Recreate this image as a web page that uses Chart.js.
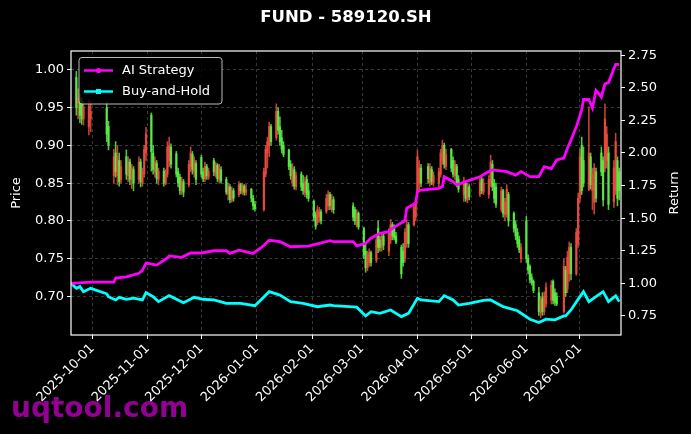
<!DOCTYPE html>
<html>
<head>
<meta charset="utf-8">
<script src="https://cdn.jsdelivr.net/npm/chart.js@4.4.1/dist/chart.umd.min.js"></script>
<style>
  html, body { margin: 0; background: #000; }
  canvas { display: block; }
</style>
</head>
<body>
<canvas id="chart" width="691" height="434"></canvas>
<script>
// trading days, month by month
const tradeMonths = ["2025-09", "2025-10", "2025-11", "2025-12", "2026-01", "2026-02",
  "2026-03", "2026-04", "2026-05", "2026-06", "2026-07"];
const tradeDaysByMonth = [
  [22, 23, 24, 25, 26, 29, 30],
  [9, 10, 13, 14, 15, 16, 17, 20, 21, 22, 23, 24, 27, 28, 29, 30, 31],
  [3, 4, 5, 6, 7, 10, 11, 12, 13, 14, 17, 18, 19, 20, 21, 24, 25, 26, 27, 28],
  [1, 2, 3, 4, 5, 8, 9, 10, 11, 12, 15, 16, 17, 18, 19, 22, 23, 24, 25, 26, 29, 30, 31],
  [5, 6, 7, 8, 9, 12, 13, 14, 15, 16, 19, 20, 21, 22, 23, 26, 27, 28, 29, 30],
  [2, 3, 4, 5, 6, 9, 10, 11, 12, 13, 24, 25, 26, 27],
  [2, 3, 4, 5, 6, 9, 10, 11, 12, 13, 16, 17, 18, 19, 20, 23, 24, 25, 26, 27, 30, 31],
  [1, 2, 3, 7, 8, 9, 10, 13, 14, 15, 16, 17, 20, 21, 22, 23, 24, 27, 28, 29, 30],
  [6, 7, 8, 11, 12, 13, 14, 15, 18, 19, 20, 21, 22, 25, 26, 27, 28, 29],
  [1, 2, 3, 4, 5, 8, 9, 10, 11, 12, 15, 16, 17, 18, 22, 23, 24, 25, 26, 29, 30],
  [1, 2, 3, 6, 7, 8, 9, 10, 13, 14, 15, 16, 17, 20, 21, 22, 23]
];

const opens = [
  .990, .955, .962, .958, .935, .925, .935,
  .950, .925, .860, .890, .860, .880, .855, .885, .860, .878, .855, .868, .855, .878, .850, .862, .890,
  .940, .890, .865, .876, .855, .866, .850, .862, .880, .898, .889, .865, .858, .840, .852, .848, .872, .888, .865, .876,
  .884, .865, .856, .872, .858, .880, .862, .874, .855, .868, .855, .836, .845, .828, .840, .835, .848, .838, .846, .838, .842, .830, .822,
  .815, .862, .890, .900, .925, .910, .945, .925, .910, .900, .894, .875, .850, .868, .845, .862, .850, .838, .855, .840,
  .826, .808, .798, .805, .812, .812, .820, .835, .815, .828, .820, .815, .795, .810,
  .790, .760, .738, .745, .758, .748, .790, .775, .765, .780, .760, .775, .795, .790, .780, .765, .760, .750, .770, .795, .795, .805,
  .840, .850, .870, .872, .850, .868, .850, .850, .862, .880, .900, .872, .895, .880, .860, .872, .855, .835, .850, .828, .845,
  .835, .855, .838, .835, .850, .875, .850, .845, .815, .840, .808, .810, .835, .810, .795, .785, .775, .750,
  .800, .750, .740, .725, .720, .705, .678, .698, .680, .690, .695, .720, .705, .700, .680, .735, .710, .730, .765, .730, .770,
  .830, .900, .880, .842, .885, .840, .825, .865, .890, .880, .870, .880, .890, .825, .840, .880, .865
];
const highs = [
  .998, .975, .968, .963, .958, .960, .958,
  .957, .932, .895, .905, .900, .890, .880, .894, .885, .882, .875, .872, .885, .882, .870, .900, .924,
  .943, .900, .885, .880, .870, .870, .868, .905, .911, .902, .892, .870, .862, .858, .855, .880, .898, .892, .885, .880,
  .887, .870, .878, .875, .870, .883, .878, .876, .875, .872, .858, .850, .848, .845, .843, .852, .850, .850, .848, .848, .843, .834, .826,
  .870, .900, .911, .931, .928, .955, .950, .938, .920, .905, .895, .880, .876, .872, .865, .865, .860, .858, .860, .850,
  .828, .812, .820, .818, .815, .835, .840, .838, .835, .832, .824, .818, .815, .812,
  .792, .770, .760, .763, .760, .780, .800, .780, .785, .783, .790, .802, .798, .795, .785, .768, .770, .790, .802, .798, .824, .828,
  .894, .880, .875, .876, .876, .872, .865, .870, .895, .907, .903, .895, .896, .885, .880, .875, .860, .858, .852, .850, .848,
  .858, .858, .856, .860, .887, .880, .855, .850, .845, .842, .830, .848, .838, .812, .800, .790, .780, .770,
  .806, .755, .742, .730, .722, .712, .700, .705, .706, .718, .721, .722, .710, .705, .750, .740, .760, .772, .770, .790, .837,
  .895, .911, .898, .951, .890, .870, .876, .870, .898, .885, .955, .925, .898, .880, .916, .885, .870
];
const lows = [
  .940, .935, .930, .928, .927, .914, .918,
  .905, .894, .850, .858, .848, .846, .850, .855, .852, .848, .843, .840, .850, .845, .846, .858, .880,
  .866, .862, .858, .850, .848, .846, .848, .858, .872, .870, .858, .845, .835, .835, .832, .845, .865, .862, .858, .848,
  .858, .852, .852, .855, .855, .860, .858, .852, .850, .850, .835, .828, .824, .825, .826, .832, .836, .835, .834, .834, .825, .815, .813,
  .813, .858, .870, .885, .900, .907, .915, .900, .890, .885, .868, .855, .846, .842, .841, .840, .835, .832, .830, .826,
  .800, .789, .795, .798, .796, .810, .815, .815, .812, .810, .800, .795, .792, .789,
  .750, .732, .734, .740, .740, .745, .758, .760, .760, .762, .754, .770, .775, .775, .770, .724, .740, .745, .765, .765, .793, .800,
  .837, .840, .845, .850, .846, .848, .846, .845, .858, .875, .870, .868, .865, .858, .855, .845, .838, .826, .826, .824, .828,
  .832, .836, .835, .830, .845, .840, .824, .818, .812, .805, .800, .805, .793, .785, .775, .765, .758, .745,
  .745, .730, .718, .715, .705, .675, .672, .675, .676, .686, .690, .690, .688, .688, .678, .700, .705, .720, .722, .728, .765,
  .825, .835, .845, .840, .842, .815, .809, .825, .860, .820, .865, .870, .815, .818, .835, .820, .828
];
const closes = [
  .950, .962, .940, .935, .950, .952, .945,
  .915, .900, .885, .865, .885, .852, .872, .862, .878, .855, .870, .850, .878, .852, .864, .895, .915,
  .892, .868, .878, .856, .866, .850, .862, .898, .900, .875, .862, .850, .840, .852, .838, .875, .890, .868, .878, .855,
  .862, .856, .872, .860, .866, .865, .874, .856, .870, .853, .838, .845, .828, .840, .830, .848, .840, .846, .838, .842, .830, .820, .816,
  .865, .895, .905, .925, .905, .945, .920, .905, .895, .888, .872, .860, .870, .846, .860, .845, .840, .852, .835, .830,
  .805, .793, .815, .812, .800, .830, .835, .820, .828, .815, .805, .800, .810, .792,
  .755, .738, .755, .758, .745, .775, .765, .765, .780, .768, .785, .795, .780, .778, .772, .730, .745, .785, .795, .770, .818, .822,
  .885, .870, .850, .856, .870, .852, .860, .865, .890, .900, .875, .888, .870, .862, .875, .850, .842, .852, .830, .845, .832,
  .852, .840, .850, .855, .878, .845, .830, .822, .840, .810, .825, .842, .800, .790, .780, .770, .762, .765,
  .750, .735, .722, .718, .708, .680, .695, .680, .700, .712, .715, .695, .692, .690, .740, .705, .752, .765, .730, .785, .830,
  .885, .840, .850, .890, .848, .862, .870, .830, .865, .828, .935, .915, .822, .870, .905, .830, .840
];

// AI Strategy return curve
const aiDates = ["2025-09-19", "2025-09-30", "2025-10-13", "2025-10-14", "2025-10-20", "2025-10-27",
  "2025-10-29", "2025-10-31", "2025-11-06", "2025-11-12", "2025-11-13", "2025-11-20", "2025-11-25",
  "2025-12-01", "2025-12-08", "2025-12-15", "2025-12-17", "2025-12-22", "2025-12-30", "2026-01-05",
  "2026-01-08", "2026-01-14", "2026-01-20", "2026-01-30", "2026-02-11", "2026-02-13", "2026-02-24",
  "2026-02-26", "2026-03-03", "2026-03-06", "2026-03-11", "2026-03-16", "2026-03-18", "2026-03-24",
  "2026-03-25", "2026-03-26", "2026-03-31", "2026-04-01", "2026-04-03", "2026-04-13", "2026-04-15",
  "2026-04-16", "2026-04-21", "2026-04-23", "2026-04-28", "2026-05-06", "2026-05-11", "2026-05-13",
  "2026-05-21", "2026-05-26", "2026-05-29", "2026-06-03", "2026-06-08", "2026-06-11", "2026-06-15",
  "2026-06-18", "2026-06-22", "2026-06-24", "2026-06-26", "2026-06-29", "2026-07-02", "2026-07-03",
  "2026-07-06", "2026-07-08", "2026-07-10", "2026-07-13", "2026-07-15", "2026-07-17", "2026-07-21",
  "2026-07-23"];
const aiValues = [1.00, 1.01, 1.01, 1.04, 1.05, 1.077,
  1.10, 1.155, 1.14, 1.195, 1.21, 1.20, 1.233,
  1.233, 1.25, 1.25, 1.23, 1.255, 1.23, 1.29,
  1.33, 1.32, 1.281, 1.285, 1.327, 1.32, 1.32,
  1.287, 1.307, 1.346, 1.384, 1.397, 1.422, 1.473,
  1.48, 1.576, 1.614, 1.703, 1.716, 1.729, 1.742,
  1.818, 1.78, 1.755, 1.78, 1.818, 1.857, 1.87,
  1.857, 1.83, 1.857, 1.818, 1.818, 1.895, 1.88,
  1.946, 1.96, 2.036, 2.10, 2.20, 2.33, 2.41,
  2.41, 2.345, 2.48, 2.43, 2.53, 2.54, 2.68,
  2.68];

// Buy-and-Hold return curve
const bhDates = ["2025-09-19", "2025-09-22", "2025-09-24", "2025-09-26", "2025-09-30", "2025-10-09",
  "2025-10-10", "2025-10-14", "2025-10-16", "2025-10-20", "2025-10-24", "2025-10-29", "2025-10-31",
  "2025-11-04", "2025-11-07", "2025-11-13", "2025-11-21", "2025-11-27", "2025-12-02", "2025-12-08",
  "2025-12-15", "2025-12-23", "2025-12-31", "2026-01-08", "2026-01-14", "2026-01-20", "2026-01-27",
  "2026-02-04", "2026-02-11", "2026-02-13", "2026-02-26", "2026-03-03", "2026-03-06", "2026-03-11",
  "2026-03-17", "2026-03-23", "2026-03-27", "2026-04-01", "2026-04-03", "2026-04-13", "2026-04-16",
  "2026-04-21", "2026-04-24", "2026-04-30", "2026-05-08", "2026-05-12", "2026-05-19", "2026-05-27",
  "2026-06-03", "2026-06-08", "2026-06-12", "2026-06-17", "2026-06-22", "2026-06-23", "2026-06-26",
  "2026-07-01", "2026-07-03", "2026-07-06", "2026-07-10", "2026-07-14", "2026-07-17", "2026-07-21",
  "2026-07-23"];
const bhValues = [1.00, 0.962, 0.975, 0.936, 0.962, 0.92,
  0.898, 0.873, 0.893, 0.878, 0.886, 0.873, 0.929,
  0.898, 0.86, 0.906, 0.852, 0.893, 0.878, 0.873,
  0.847, 0.847, 0.829, 0.936, 0.91, 0.86, 0.847,
  0.821, 0.834, 0.83, 0.817, 0.75, 0.783, 0.77,
  0.796, 0.745, 0.77, 0.886, 0.873, 0.86, 0.906,
  0.873, 0.834, 0.847, 0.87, 0.873, 0.821, 0.79,
  0.725, 0.70, 0.725, 0.72, 0.75, 0.75, 0.796,
  0.898, 0.936, 0.86, 0.898, 0.936, 0.86, 0.904,
  0.86];

const monthTicks = ["2025-10-01", "2025-11-01", "2025-12-01", "2026-01-01", "2026-02-01",
  "2026-03-01", "2026-04-01", "2026-05-01", "2026-06-01", "2026-07-01"];
const priceTicks = [0.70, 0.75, 0.80, 0.85, 0.90, 0.95, 1.00];
const returnTicks = [0.75, 1.00, 1.25, 1.50, 1.75, 2.00, 2.25, 2.50, 2.75];

const FONT = '"DejaVu Sans", sans-serif';
const UP = "rgba(238, 76, 62, 0.85)";
const DOWN = "rgba(90, 240, 70, 0.85)";
const GRID = "rgba(128, 128, 128, 0.55)";

const day = (s) => Date.UTC(+s.slice(0, 4), +s.slice(5, 7) - 1, +s.slice(8, 10)) / 864e5;

const tradeDates = [];
tradeMonths.forEach((m, i) => {
  tradeDaysByMonth[i].forEach((d) => tradeDates.push(`${m}-${String(d).padStart(2, "0")}`));
});

const candleColors = tradeDates.map((_, i) => (closes[i] >= opens[i] ? UP : DOWN));
const wickData = tradeDates.map((d, i) => ({ x: day(d), y: [lows[i], highs[i]] }));
const bodyData = tradeDates.map((d, i) => ({ x: day(d), y: [opens[i], closes[i]] }));
const aiData = aiDates.map((d, i) => ({ x: day(d), y: aiValues[i] }));
const bhData = bhDates.map((d, i) => ({ x: day(d), y: bhValues[i] }));

const decorations = {
  id: "decorations",
  beforeDraw(chart) {
    const ctx = chart.ctx;
    ctx.save();
    ctx.fillStyle = "#000";
    ctx.fillRect(0, 0, chart.width, chart.height);
    ctx.fillStyle = "#930093";
    ctx.font = `bold 28px ${FONT}`;
    ctx.textBaseline = "alphabetic";
    ctx.fillText("uqtool.com", 11, 417);
    ctx.restore();
  },
  afterDraw(chart) {
    const ctx = chart.ctx;
    const a = chart.chartArea;
    ctx.save();

    // frame
    ctx.strokeStyle = "#fff";
    ctx.lineWidth = 1.2;
    ctx.strokeRect(a.left, a.top, a.right - a.left, a.bottom - a.top);

    // title
    ctx.fillStyle = "#fff";
    ctx.textAlign = "center";
    ctx.textBaseline = "middle";
    ctx.font = `bold 16.5px ${FONT}`;
    ctx.fillText("FUND - 589120.SH", (a.left + a.right) / 2, 18);

    // axis titles
    ctx.font = `13px ${FONT}`;
    const midY = (a.top + a.bottom) / 2;
    [["Price", 17], ["Return", 675]].forEach(([txt, x]) => {
      ctx.save();
      ctx.translate(x, midY);
      ctx.rotate(-Math.PI / 2);
      ctx.fillText(txt, 0, 0);
      ctx.restore();
    });

    // legend
    ctx.fillStyle = "rgba(0, 0, 0, 0.8)";
    ctx.strokeStyle = "rgba(204, 204, 204, 0.9)";
    ctx.lineWidth = 1;
    ctx.beginPath();
    ctx.roundRect(79, 57.5, 143, 46.5, 3);
    ctx.fill();
    ctx.stroke();

    const rows = [
      { label: "AI Strategy", color: "#ff00ff", y: 70.5, marker: "circle" },
      { label: "Buy-and-Hold", color: "#00ffff", y: 91.5, marker: "square" }
    ];
    rows.forEach((r) => {
      ctx.strokeStyle = r.color;
      ctx.fillStyle = r.color;
      ctx.lineWidth = 2.5;
      ctx.beginPath();
      ctx.moveTo(84, r.y);
      ctx.lineTo(113, r.y);
      ctx.stroke();
      if (r.marker === "circle") {
        ctx.beginPath();
        ctx.arc(98.5, r.y, 2.6, 0, Math.PI * 2);
        ctx.fill();
      } else {
        ctx.fillRect(96, r.y - 2.5, 5, 5);
      }
      ctx.fillStyle = "#fff";
      ctx.textAlign = "left";
      ctx.font = `13px ${FONT}`;
      ctx.fillText(r.label, 122, r.y + 0.5);
    });

    ctx.restore();
  }
};

const tickFont = { family: FONT, size: 13 };

new Chart(document.getElementById("chart"), {
  type: "bar",
  data: {
    datasets: [
      {
        type: "line",
        label: "AI Strategy",
        data: aiData,
        yAxisID: "y1",
        borderColor: "#ff00ff",
        borderWidth: 2.8,
        pointRadius: 0,
        tension: 0,
        order: 0
      },
      {
        type: "line",
        label: "Buy-and-Hold",
        data: bhData,
        yAxisID: "y1",
        borderColor: "#00ffff",
        borderWidth: 2.8,
        pointRadius: 0,
        tension: 0,
        order: 1
      },
      {
        type: "bar",
        label: "body",
        data: bodyData,
        yAxisID: "y",
        backgroundColor: candleColors,
        barThickness: 1.6,
        barPercentage: 1,
        categoryPercentage: 1,
        grouped: false,
        order: 2
      },
      {
        type: "bar",
        label: "wick",
        data: wickData,
        yAxisID: "y",
        backgroundColor: candleColors,
        barThickness: 0.9,
        barPercentage: 1,
        categoryPercentage: 1,
        grouped: false,
        order: 3
      }
    ]
  },
  options: {
    responsive: false,
    animation: false,
    layout: { padding: { top: 51, left: 0, right: 0, bottom: 0 } },
    plugins: {
      legend: { display: false },
      tooltip: { enabled: false },
      title: { display: false }
    },
    scales: {
      x: {
        type: "linear",
        min: day("2025-09-19"),
        max: day("2026-07-24"),
        offset: false,
        afterBuildTicks: (scale) => {
          scale.ticks = monthTicks.map((m) => ({ value: day(m) }));
        },
        afterFit: (scale) => {
          scale.height = 99;
        },
        ticks: {
          autoSkip: false,
          minRotation: 45,
          maxRotation: 45,
          color: "#fff",
          font: tickFont,
          padding: 2,
          callback: (v, i) => monthTicks[i]
        },
        grid: {
          color: GRID,
          lineWidth: 0.8,
          offset: false,
          drawTicks: true,
          tickLength: 4,
          tickColor: "#fff",
          tickWidth: 1
        },
        border: { display: false, dash: [3, 3] }
      },
      y: {
        position: "left",
        min: 0.649,
        max: 1.025,
        stacked: false,
        afterBuildTicks: (scale) => {
          scale.ticks = priceTicks.map((v) => ({ value: v }));
        },
        afterFit: (scale) => {
          scale.width = 71;
        },
        ticks: {
          color: "#fff",
          font: tickFont,
          padding: 3,
          callback: (v) => Number(v).toFixed(2)
        },
        grid: {
          color: GRID,
          lineWidth: 0.8,
          drawTicks: true,
          tickLength: 4,
          tickColor: "#fff",
          tickWidth: 1
        },
        border: { display: false, dash: [3, 3] }
      },
      y1: {
        position: "right",
        min: 0.604,
        max: 2.782,
        afterBuildTicks: (scale) => {
          scale.ticks = returnTicks.map((v) => ({ value: v }));
        },
        afterFit: (scale) => {
          scale.width = 70;
        },
        ticks: {
          color: "#fff",
          font: tickFont,
          padding: 3,
          callback: (v) => Number(v).toFixed(2)
        },
        grid: {
          drawOnChartArea: false,
          drawTicks: true,
          tickLength: 4,
          tickColor: "#fff",
          tickWidth: 1
        },
        border: { display: false }
      }
    }
  },
  plugins: [decorations]
});
</script>
</body>
</html>
